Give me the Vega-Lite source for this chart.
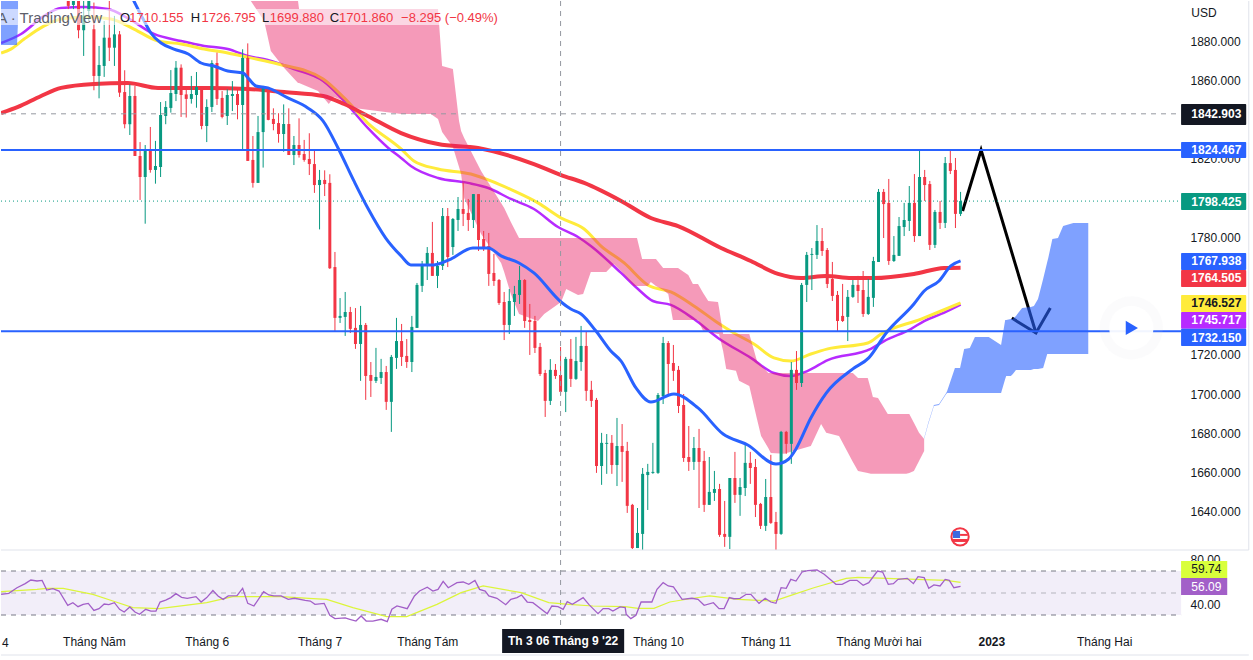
{"$schema":"https://vega.github.io/schema/vega-lite/v6.json","padding":0,"background":"#ffffff","spacing":0,"bounds":"flush","config":{"view":{"stroke":null},"font":"Liberation Sans","axis":{"labelFont":"Liberation Sans"}},
"datasets":{
"candles":[
{"bar":1,"open":1905,"high":1910,"low":1896.2,"close":1897.9},{"bar":2,"open":1898.4,"high":1910,"low":1896.2,"close":1905},{"bar":3,"open":1905,"high":1910,"low":1881.4,"close":1885.5},{"bar":4,"open":1885.5,"high":1905,"low":1872.4,"close":1893},{"bar":5,"open":1895.3,"high":1908,"low":1890.2,"close":1903},
{"bar":6,"open":1886,"high":1899.6,"low":1854.9,"close":1862.2},{"bar":7,"open":1862.2,"high":1877.5,"low":1850.8,"close":1867.8},{"bar":8,"open":1867.3,"high":1890.2,"low":1861.7,"close":1881.7},{"bar":9,"open":1881.7,"high":1900.4,"low":1869.8,"close":1876.6},{"bar":10,"open":1876.6,"high":1892.8,"low":1867.3,"close":1883.4},
{"bar":11,"open":1883.4,"high":1885.1,"low":1851.5,"close":1853.7},{"bar":12,"open":1854,"high":1865.1,"low":1835.5,"close":1837.6},{"bar":13,"open":1837.6,"high":1857.9,"low":1832.1,"close":1852},{"bar":14,"open":1852,"high":1857.1,"low":1821.4,"close":1821.4},{"bar":15,"open":1821.4,"high":1828.5,"low":1799,"close":1810.7},
{"bar":16,"open":1810.7,"high":1827,"low":1786.9,"close":1824.5},{"bar":17,"open":1824.5,"high":1836.2,"low":1812.9,"close":1814.3},{"bar":18,"open":1814.3,"high":1829.1,"low":1807.3,"close":1816.3},{"bar":19,"open":1815.8,"high":1848.9,"low":1810.7,"close":1842.3},{"bar":20,"open":1841.8,"high":1849.4,"low":1837.6,"close":1846.4},
{"bar":21,"open":1845.9,"high":1865.2,"low":1843.5,"close":1853.5},{"bar":22,"open":1853,"high":1869.8,"low":1849.4,"close":1866.4},{"bar":23,"open":1866.4,"high":1868.1,"low":1841.3,"close":1852.5},{"bar":24,"open":1852.8,"high":1855.4,"low":1841,"close":1850.5},{"bar":25,"open":1850.5,"high":1862.2,"low":1848.1,"close":1853},
{"bar":26,"open":1852.5,"high":1864.2,"low":1846,"close":1856.6},{"bar":27,"open":1856.6,"high":1856.6,"low":1835,"close":1836.7},{"bar":28,"open":1836.7,"high":1850.3,"low":1828.5,"close":1846.4},{"bar":29,"open":1846.4,"high":1870.2,"low":1843.8,"close":1868.8},{"bar":30,"open":1868.8,"high":1874.1,"low":1847.4,"close":1850.5},
{"bar":31,"open":1851,"high":1854.5,"low":1840.6,"close":1841.3},{"bar":32,"open":1841.8,"high":1855.4,"low":1837.2,"close":1852.5},{"bar":33,"open":1852,"high":1859.6,"low":1844.3,"close":1853},{"bar":34,"open":1853,"high":1855.4,"low":1840.1,"close":1847.4},{"bar":35,"open":1847.4,"high":1875.8,"low":1824.8,"close":1871.4},
{"bar":36,"open":1871.4,"high":1878.8,"low":1818.9,"close":1818.9},{"bar":37,"open":1819.4,"high":1831.6,"low":1805.3,"close":1807.7},{"bar":38,"open":1807.7,"high":1841.8,"low":1807.7,"close":1833.6},{"bar":39,"open":1833.6,"high":1857.1,"low":1815.5,"close":1857.1},{"bar":40,"open":1856.6,"high":1856.6,"low":1839.6,"close":1839.8},
{"bar":41,"open":1840.3,"high":1845.7,"low":1834.5,"close":1837.7},{"bar":42,"open":1838.2,"high":1843.2,"low":1828.2,"close":1832.6},{"bar":43,"open":1832.6,"high":1847.7,"low":1823.6,"close":1837.7},{"bar":44,"open":1837.7,"high":1845.7,"low":1821.9,"close":1821.9},{"bar":45,"open":1821.9,"high":1831.6,"low":1816.8,"close":1827},
{"bar":46,"open":1827,"high":1840.6,"low":1820.6,"close":1821.9},{"bar":47,"open":1822.4,"high":1829.6,"low":1818.5,"close":1819.4},{"bar":48,"open":1819.9,"high":1833,"low":1811.7,"close":1817.3},{"bar":49,"open":1817.3,"high":1824.8,"low":1802.6,"close":1806.6},{"bar":50,"open":1806.6,"high":1814.3,"low":1784,"close":1809.2},
{"bar":51,"open":1809.2,"high":1814.1,"low":1801,"close":1807.1},{"bar":52,"open":1807.7,"high":1812.1,"low":1763.8,"close":1764.2},{"bar":53,"open":1764.8,"high":1772.5,"low":1731.7,"close":1738.9},{"bar":54,"open":1738.9,"high":1749,"low":1736.3,"close":1739.9},{"bar":55,"open":1739.4,"high":1752.1,"low":1729.7,"close":1741.9},
{"bar":56,"open":1741.9,"high":1744.5,"low":1731.2,"close":1733.3},{"bar":57,"open":1733.8,"high":1743.9,"low":1723.1,"close":1725.6},{"bar":58,"open":1725.6,"high":1745,"low":1706.8,"close":1735.3},{"bar":59,"open":1735.3,"high":1736.3,"low":1697.1,"close":1709.3},{"bar":60,"open":1709.8,"high":1716.4,"low":1698.6,"close":1706.8},
{"bar":61,"open":1706.8,"high":1723.6,"low":1705.7,"close":1708.8},{"bar":62,"open":1708.3,"high":1718,"low":1705.2,"close":1711.3},{"bar":63,"open":1711.3,"high":1714.4,"low":1692,"close":1696.1},{"bar":64,"open":1696.1,"high":1720,"low":1680.8,"close":1719},{"bar":65,"open":1718.5,"high":1738.9,"low":1712.9,"close":1727.1},
{"bar":66,"open":1727.1,"high":1735.8,"low":1714.4,"close":1719},{"bar":67,"open":1719.5,"high":1728.1,"low":1713.4,"close":1716.4},{"bar":68,"open":1716.4,"high":1739.9,"low":1711.3,"close":1734.3},{"bar":69,"open":1733.8,"high":1756.7,"low":1733.8,"close":1755.7},{"bar":70,"open":1755.2,"high":1767.9,"low":1752.1,"close":1765.4},
{"bar":71,"open":1765.4,"high":1775,"low":1758.2,"close":1772},{"bar":72,"open":1772,"high":1787.8,"low":1760.3,"close":1760.3},{"bar":73,"open":1760.3,"high":1767.9,"low":1754.1,"close":1765.4},{"bar":74,"open":1765.4,"high":1794.9,"low":1763.3,"close":1790.8},{"bar":75,"open":1790.8,"high":1794.9,"low":1764.8,"close":1769.9},
{"bar":76,"open":1775,"high":1789.8,"low":1771,"close":1789.3},{"bar":77,"open":1788.8,"high":1800.5,"low":1783.2,"close":1794.4},{"bar":78,"open":1794.4,"high":1807.7,"low":1785.7,"close":1791.9},{"bar":79,"open":1792.4,"high":1799.5,"low":1783.2,"close":1788.8},{"bar":80,"open":1788.8,"high":1802,"low":1784.7,"close":1802},
{"bar":81,"open":1802,"high":1802,"low":1773,"close":1778.6},{"bar":82,"open":1779.1,"high":1783.2,"low":1773,"close":1774.5},{"bar":83,"open":1775.5,"high":1782.2,"low":1755.2,"close":1761.3},{"bar":84,"open":1761.8,"high":1771.5,"low":1755.2,"close":1757.7},{"bar":85,"open":1758.2,"high":1758.7,"low":1745.5,"close":1746.5},
{"bar":86,"open":1747,"high":1752.1,"low":1727.6,"close":1735.3},{"bar":87,"open":1735.3,"high":1753.6,"low":1730.7,"close":1747.5},{"bar":88,"open":1747,"high":1755.2,"low":1739.9,"close":1751.1},{"bar":89,"open":1750.6,"high":1765.4,"low":1746,"close":1758.2},{"bar":90,"open":1758.2,"high":1758.7,"low":1733.8,"close":1737.3},
{"bar":91,"open":1737.8,"high":1746,"low":1720,"close":1736.8},{"bar":92,"open":1737.3,"high":1739.9,"low":1721,"close":1723.6},{"bar":93,"open":1724.1,"high":1726.1,"low":1709.3,"close":1710.3},{"bar":94,"open":1710.8,"high":1712.4,"low":1688.4,"close":1696.6},{"bar":95,"open":1696.6,"high":1717.9,"low":1694.5,"close":1712.4},
{"bar":96,"open":1712.4,"high":1715.4,"low":1707.8,"close":1709.3},{"bar":97,"open":1709.8,"high":1724.1,"low":1699.6,"close":1701.2},{"bar":98,"open":1701.2,"high":1719,"low":1690.9,"close":1718},{"bar":99,"open":1718,"high":1728.1,"low":1703.7,"close":1707.8},{"bar":100,"open":1707.8,"high":1729.2,"low":1707.3,"close":1716.9},
{"bar":101,"open":1716.4,"high":1734.8,"low":1711.9,"close":1724.6},{"bar":102,"open":1724.6,"high":1731.7,"low":1696.6,"close":1701.7},{"bar":103,"open":1702.2,"high":1706.8,"low":1693.5,"close":1696.6},{"bar":104,"open":1697.1,"high":1698.1,"low":1659.9,"close":1663.4},{"bar":105,"open":1663.4,"high":1680.3,"low":1653.8,"close":1675.2},
{"bar":106,"open":1674.7,"high":1679.7,"low":1659.4,"close":1675.2},{"bar":107,"open":1675.2,"high":1679.2,"low":1659.4,"close":1663.9},{"bar":108,"open":1663.9,"high":1687.9,"low":1653.2,"close":1673.6},{"bar":109,"open":1673.6,"high":1684.8,"low":1655.3,"close":1670.6},{"bar":110,"open":1671.1,"high":1675.7,"low":1639.5,"close":1643.1},
{"bar":111,"open":1643.6,"high":1644.1,"low":1621.1,"close":1621.6},{"bar":112,"open":1621.6,"high":1642,"low":1621.6,"close":1629.3},{"bar":113,"open":1628.8,"high":1662.4,"low":1620.6,"close":1659.4},{"bar":114,"open":1658.8,"high":1664.5,"low":1641,"close":1660.4},{"bar":115,"open":1659.9,"high":1675.2,"low":1659.4,"close":1660.4},
{"bar":116,"open":1659.9,"high":1700.6,"low":1659.4,"close":1699.6},{"bar":117,"open":1699.1,"high":1729.2,"low":1695,"close":1726.1},{"bar":118,"open":1726.1,"high":1727.1,"low":1700.1,"close":1715.4},{"bar":119,"open":1715.9,"high":1725.1,"low":1706.8,"close":1711.9},{"bar":120,"open":1712.4,"high":1714.4,"low":1690.4,"close":1694},
{"bar":121,"open":1694.5,"high":1700.1,"low":1665.5,"close":1667.5},{"bar":122,"open":1668,"high":1683.8,"low":1660.9,"close":1665.5},{"bar":123,"open":1665.5,"high":1678.2,"low":1661.4,"close":1672.6},{"bar":124,"open":1672.6,"high":1682.3,"low":1642,"close":1665.5},{"bar":125,"open":1666,"high":1671.1,"low":1640,"close":1643.6},
{"bar":126,"open":1643.6,"high":1668,"low":1643.6,"close":1650.2},{"bar":127,"open":1649.7,"high":1660.9,"low":1645.6,"close":1651.7},{"bar":128,"open":1651.7,"high":1654.3,"low":1627.3,"close":1628.3},{"bar":129,"open":1628.8,"high":1645.6,"low":1622.2,"close":1627.3},{"bar":130,"open":1627.3,"high":1657.3,"low":1621.1,"close":1657.3},
{"bar":131,"open":1657.3,"high":1670.6,"low":1644.6,"close":1648.7},{"bar":132,"open":1648.7,"high":1657.3,"low":1638,"close":1652.7},{"bar":133,"open":1652.2,"high":1674.7,"low":1648.1,"close":1665},{"bar":134,"open":1665,"high":1670.6,"low":1654.3,"close":1662.4},{"bar":135,"open":1662.9,"high":1667,"low":1637.4,"close":1643.6},
{"bar":136,"open":1644.1,"high":1644.6,"low":1631.3,"close":1632.9},{"bar":137,"open":1632.9,"high":1656.8,"low":1630.3,"close":1647.6},{"bar":138,"open":1647.6,"high":1669.1,"low":1633.9,"close":1634.4},{"bar":139,"open":1634.9,"high":1640,"low":1620.6,"close":1628.8},{"bar":140,"open":1628.8,"high":1681.3,"low":1628.3,"close":1680.8},
{"bar":141,"open":1680.8,"high":1681.3,"low":1669.6,"close":1674.7},{"bar":142,"open":1674.7,"high":1716.4,"low":1664.5,"close":1712.4},{"bar":143,"open":1712.4,"high":1722,"low":1702.2,"close":1705.7},{"bar":144,"open":1705.7,"high":1756.7,"low":1703.7,"close":1755.7},{"bar":145,"open":1755.7,"high":1772.5,"low":1747,"close":1771},
{"bar":146,"open":1771,"high":1774.5,"low":1753.1,"close":1771.5},{"bar":147,"open":1771,"high":1786.2,"low":1768.9,"close":1778.1},{"bar":148,"open":1778.1,"high":1784.7,"low":1770.5,"close":1773},{"bar":149,"open":1773.5,"high":1774.5,"low":1754.1,"close":1756.2},{"bar":150,"open":1758.7,"high":1767.4,"low":1747.5,"close":1750.1},
{"bar":151,"open":1750.6,"high":1752.6,"low":1732.2,"close":1737.3},{"bar":152,"open":1739.9,"high":1756.2,"low":1736.8,"close":1737.3},{"bar":153,"open":1739.4,"high":1753.1,"low":1727.1,"close":1749.6},{"bar":154,"open":1749.6,"high":1758.2,"low":1749.1,"close":1755.7},{"bar":155,"open":1755.7,"high":1760.3,"low":1746.5,"close":1752.6},
{"bar":156,"open":1753.1,"high":1762.8,"low":1739.4,"close":1740.9},{"bar":157,"open":1740.9,"high":1758.7,"low":1740.4,"close":1749.6},{"bar":158,"open":1749.1,"high":1770,"low":1744.5,"close":1767.9},{"bar":159,"open":1767.4,"high":1804.6,"low":1767.4,"close":1803.1},{"bar":160,"open":1803.1,"high":1804.6,"low":1779.6,"close":1796.9},
{"bar":161,"open":1797.5,"high":1809.7,"low":1765.9,"close":1767.9},{"bar":162,"open":1767.9,"high":1780.6,"low":1767.4,"close":1771},{"bar":163,"open":1770.5,"high":1790.3,"low":1770.5,"close":1785.7},{"bar":164,"open":1785.2,"high":1797.5,"low":1780.6,"close":1788.8},{"bar":165,"open":1788.3,"high":1806.1,"low":1783.2,"close":1797.5},
{"bar":166,"open":1797.5,"high":1812.2,"low":1777.6,"close":1780.6},{"bar":167,"open":1780.6,"high":1824.5,"low":1780.6,"close":1810.7},{"bar":168,"open":1810.7,"high":1814.3,"low":1798.5,"close":1806.6},{"bar":169,"open":1807.1,"high":1808.7,"low":1773.5,"close":1776.1},{"bar":170,"open":1776.1,"high":1793.9,"low":1774.5,"close":1792.9},
{"bar":171,"open":1792.9,"high":1798.5,"low":1784.2,"close":1787.3},{"bar":172,"open":1787.3,"high":1820.9,"low":1784.7,"close":1817.8},{"bar":173,"open":1817.8,"high":1824,"low":1812.2,"close":1813.8},{"bar":174,"open":1814.3,"high":1820.4,"low":1784.7,"close":1791.9},{"bar":175,"open":1791.9,"high":1803.1,"low":1790.8,"close":1798.425}],
"maBlue":[{"bar":11.3,"price":1913.6},{"bar":13.8,"price":1900.4},{"bar":15.8,"price":1890.2},{"bar":17.1,"price":1884.1},{"bar":19.1,"price":1879},{"bar":21.6,"price":1875.9},{"bar":24.4,"price":1873.4},{"bar":26.9,"price":1868.8},{"bar":29.4,"price":1867.3},{"bar":32.1,"price":1864.7},{"bar":35.1,"price":1863.7},{"bar":36.2,"price":1860.7},{"bar":37.6,"price":1857.1},{"bar":39.9,"price":1856.1},{"bar":43.8,"price":1851},{"bar":47.7,"price":1845.9},{"bar":50.7,"price":1839.2},{"bar":53.6,"price":1825.5},{"bar":56.7,"price":1808.7},{"bar":59.4,"price":1794.9},{"bar":62.9,"price":1779.6},{"bar":65.9,"price":1770.5},{"bar":67.8,"price":1765.9},{"bar":72.3,"price":1765.9},{"bar":75.6,"price":1768.9},{"bar":79.9,"price":1774.5},{"bar":82.9,"price":1774.5},{"bar":85.4,"price":1770.5},{"bar":88.9,"price":1766.9},{"bar":91.8,"price":1761.8},{"bar":97.1,"price":1747},{"bar":99,"price":1743.4},{"bar":101,"price":1740.9},{"bar":103.9,"price":1732.2},{"bar":106.8,"price":1722},{"bar":108.8,"price":1716.9},{"bar":111.7,"price":1703.2},{"bar":114.6,"price":1696},{"bar":119.1,"price":1700.1},{"bar":123.8,"price":1693},{"bar":128.7,"price":1679.7},{"bar":133.5,"price":1674.1},{"bar":139,"price":1664.4},{"bar":141.5,"price":1667},{"bar":142.9,"price":1672.1},{"bar":145.8,"price":1687.9},{"bar":148.8,"price":1700.6},{"bar":154,"price":1712.9},{"bar":157.1,"price":1718.5},{"bar":160.5,"price":1731.2},{"bar":165.9,"price":1746},{"bar":167.9,"price":1752.6},{"bar":170.8,"price":1757.7},{"bar":173.1,"price":1765.4},{"bar":175,"price":1767.938}],
"maPurple":[{"bar":-12.1,"price":1879},{"bar":-8.2,"price":1883.6},{"bar":-3.7,"price":1892.8},{"bar":-0.4,"price":1896.8},{"bar":4.1,"price":1897.3},{"bar":8.7,"price":1896.3},{"bar":12.6,"price":1891.7},{"bar":17.7,"price":1883.6},{"bar":23,"price":1880},{"bar":27.5,"price":1877.5},{"bar":32.1,"price":1875.9},{"bar":36,"price":1872.4},{"bar":39.9,"price":1870.3},{"bar":45,"price":1865.7},{"bar":50.7,"price":1859.6},{"bar":54.8,"price":1849.4},{"bar":59.4,"price":1835.7},{"bar":63.4,"price":1825.5},{"bar":65.9,"price":1820.4},{"bar":67.8,"price":1816.3},{"bar":73.1,"price":1810.2},{"bar":78.9,"price":1807.7},{"bar":82.9,"price":1805.1},{"bar":87.3,"price":1799.5},{"bar":91.8,"price":1794.4},{"bar":96.5,"price":1785.2},{"bar":100.4,"price":1780.1},{"bar":102.9,"price":1775.5},{"bar":108.8,"price":1761.8},{"bar":112.1,"price":1753.6},{"bar":115,"price":1747.5},{"bar":118.5,"price":1745.5},{"bar":123,"price":1738.3},{"bar":127.7,"price":1728.7},{"bar":134.1,"price":1718.5},{"bar":138.6,"price":1710.8},{"bar":141.9,"price":1709.3},{"bar":145.2,"price":1711.9},{"bar":149.1,"price":1717.4},{"bar":157.5,"price":1723.1},{"bar":160.1,"price":1727.1},{"bar":165.3,"price":1733.2},{"bar":167.9,"price":1737.3},{"bar":171.2,"price":1740.9},{"bar":175,"price":1745.717}],
"maYellow":[{"bar":-12.1,"price":1873.9},{"bar":-10.2,"price":1875.9},{"bar":-7.6,"price":1881},{"bar":-3.7,"price":1887.7},{"bar":-0.4,"price":1891.2},{"bar":4.8,"price":1892.2},{"bar":9.3,"price":1891.2},{"bar":13.8,"price":1886.1},{"bar":18.5,"price":1880},{"bar":23,"price":1878.5},{"bar":27.5,"price":1875.9},{"bar":32.1,"price":1873.9},{"bar":36.6,"price":1871.4},{"bar":41.9,"price":1868.3},{"bar":50.7,"price":1860.7},{"bar":54.8,"price":1851},{"bar":59.4,"price":1838.2},{"bar":65.9,"price":1825},{"bar":68.4,"price":1818.9},{"bar":73.1,"price":1814.8},{"bar":79.5,"price":1812.2},{"bar":83.4,"price":1808.7},{"bar":87.9,"price":1803.6},{"bar":92.6,"price":1797.5},{"bar":97.1,"price":1789.8},{"bar":101.6,"price":1784.2},{"bar":104.9,"price":1775.5},{"bar":109.4,"price":1766.9},{"bar":114,"price":1755.7},{"bar":118.5,"price":1752.1},{"bar":123,"price":1745},{"bar":127.7,"price":1736.3},{"bar":130.8,"price":1731.2},{"bar":134.7,"price":1725.6},{"bar":138.6,"price":1718.5},{"bar":141.9,"price":1716.9},{"bar":145.8,"price":1720.5},{"bar":149.1,"price":1723.1},{"bar":156.9,"price":1726.1},{"bar":159.5,"price":1730.7},{"bar":167.3,"price":1738.3},{"bar":171.2,"price":1742.4},{"bar":175,"price":1746.527}],
"maRed":[{"bar":-12.1,"price":1843.3},{"bar":-8.8,"price":1846.4},{"bar":-4.3,"price":1852},{"bar":-0.4,"price":1856.1},{"bar":6,"price":1858.1},{"bar":12.6,"price":1858.6},{"bar":18.5,"price":1856.1},{"bar":28.2,"price":1856.1},{"bar":36,"price":1855.6},{"bar":43.1,"price":1854},{"bar":50.7,"price":1852},{"bar":54.8,"price":1847.9},{"bar":59.4,"price":1841.8},{"bar":65.9,"price":1833.1},{"bar":73.1,"price":1827.5},{"bar":80.9,"price":1825.5},{"bar":91.8,"price":1817.3},{"bar":97.1,"price":1811.7},{"bar":101.6,"price":1807.7},{"bar":108.8,"price":1798.5},{"bar":114.6,"price":1789.8},{"bar":119.9,"price":1785.7},{"bar":128.3,"price":1774.5},{"bar":134.1,"price":1767.9},{"bar":139.4,"price":1761.3},{"bar":143.9,"price":1759.2},{"bar":148.8,"price":1760.3},{"bar":153.7,"price":1759.2},{"bar":158.1,"price":1759.2},{"bar":165.9,"price":1761.3},{"bar":171.8,"price":1764.3},{"bar":175,"price":1764.505}],
"pinkCloud":[{"bar":36.6,"top":1900.4,"bottom":1900.4},{"bar":39.2,"top":1900.4,"bottom":1890.2},{"bar":40.5,"top":1900.4,"bottom":1874.9},{"bar":43.1,"top":1900.4,"bottom":1866.3},{"bar":45.8,"top":1900.4,"bottom":1858.6},{"bar":46,"top":1896.3,"bottom":1858.6},{"bar":49.7,"top":1896.3,"bottom":1854.5},{"bar":51.8,"top":1896.3,"bottom":1847.9},{"bar":52.8,"top":1896.3,"bottom":1851.5},{"bar":54.8,"top":1896.3,"bottom":1849.4},{"bar":56.7,"top":1896.3,"bottom":1845.9},{"bar":65.9,"top":1896.3,"bottom":1842.8},{"bar":71.7,"top":1896.3,"bottom":1842.8},{"bar":73.1,"top":1896.3,"bottom":1840.3},{"bar":73.9,"top":1867.3,"bottom":1833.6},{"bar":76,"top":1865.7,"bottom":1826},{"bar":77.2,"top":1839.2,"bottom":1815.8},{"bar":77.6,"top":1834.2,"bottom":1812.2},{"bar":78.2,"top":1830.6,"bottom":1800},{"bar":81.5,"top":1813.8,"bottom":1781.7},{"bar":85.4,"top":1797.5,"bottom":1766.9},{"bar":86,"top":1794.9,"bottom":1762.3},{"bar":87.3,"top":1787.8,"bottom":1751.1},{"bar":88.9,"top":1779.6,"bottom":1740.9},{"bar":92.6,"top":1779.6,"bottom":1737.3},{"bar":93.8,"top":1779.6,"bottom":1740.9},{"bar":97.1,"top":1779.6,"bottom":1747},{"bar":98.1,"top":1779.6,"bottom":1753.6},{"bar":100.4,"top":1779.6,"bottom":1750.6},{"bar":101.4,"top":1779.6,"bottom":1751.1},{"bar":102.9,"top":1779.6,"bottom":1762.3},{"bar":105.9,"top":1779.6,"bottom":1762.3},{"bar":107.4,"top":1779.6,"bottom":1766.4},{"bar":108.8,"top":1779.6,"bottom":1762.8},{"bar":111.3,"top":1779.6,"bottom":1755.2},{"bar":111.9,"top":1779.6,"bottom":1755.2},{"bar":112.9,"top":1768.9,"bottom":1755.2},{"bar":114,"top":1768.9,"bottom":1755.2},{"bar":114.6,"top":1768.9,"bottom":1757.2},{"bar":115.6,"top":1768.9,"bottom":1755.2},{"bar":117,"top":1764.3,"bottom":1753.1},{"bar":118,"top":1764.3,"bottom":1751.1},{"bar":118.9,"top":1764.3,"bottom":1737.8},{"bar":119.9,"top":1764.3,"bottom":1737.8},{"bar":121.9,"top":1760.8,"bottom":1737.8},{"bar":122.8,"top":1756.2,"bottom":1737.8},{"bar":123.8,"top":1756.2,"bottom":1737.8},{"bar":124.8,"top":1751.6,"bottom":1732.2},{"bar":125.8,"top":1747.5,"bottom":1731.7},{"bar":127.7,"top":1747,"bottom":1730.7},{"bar":127.9,"top":1744,"bottom":1730.7},{"bar":128.7,"top":1730.7,"bottom":1722},{"bar":129.3,"top":1730.7,"bottom":1712.9},{"bar":131.2,"top":1730.7,"bottom":1711.9},{"bar":131.8,"top":1730.7,"bottom":1706.8},{"bar":133.8,"top":1730.7,"bottom":1704.2},{"bar":135.3,"top":1716.9,"bottom":1687.4},{"bar":136.1,"top":1714.9,"bottom":1678.7},{"bar":137.5,"top":1710.8,"bottom":1672.6},{"bar":138,"top":1710.8,"bottom":1670.1},{"bar":140.6,"top":1710.8,"bottom":1669.6},{"bar":145.8,"top":1710.8,"bottom":1673.6},{"bar":147.8,"top":1710.8,"bottom":1684.8},{"bar":148.8,"top":1710.8,"bottom":1680.3},{"bar":151.3,"top":1710.8,"bottom":1678.7},{"bar":154,"top":1710.8,"bottom":1665.5},{"bar":155,"top":1708.3,"bottom":1660.9},{"bar":156.9,"top":1708.3,"bottom":1659.9},{"bar":157.5,"top":1702.7,"bottom":1659.4},{"bar":157.9,"top":1698.6,"bottom":1659.4},{"bar":158.9,"top":1698.1,"bottom":1659.4},{"bar":160.8,"top":1689.9,"bottom":1659.4},{"bar":164.4,"top":1689.9,"bottom":1659.4},{"bar":165,"top":1689.9,"bottom":1659.9},{"bar":165.9,"top":1685.4,"bottom":1660.9},{"bar":166.9,"top":1680.3,"bottom":1666},{"bar":167.9,"top":1677.2,"bottom":1671.1}],
"blueCloud":[{"bar":167.9,"top":1677.7,"bottom":1677.2},{"bar":168.7,"top":1685.4,"bottom":1684.8},{"bar":169.8,"top":1694.5,"bottom":1694},{"bar":170.8,"top":1695,"bottom":1694.5},{"bar":172.2,"top":1700.6,"bottom":1700.1},{"bar":172.4,"top":1701.7,"bottom":1700.6},{"bar":173.9,"top":1713.4,"bottom":1700.6},{"bar":174.9,"top":1713.4,"bottom":1700.6},{"bar":175.7,"top":1723.1,"bottom":1700.6},{"bar":176.8,"top":1723.6,"bottom":1700.6},{"bar":177.8,"top":1729.2,"bottom":1700.6},{"bar":180.5,"top":1729.2,"bottom":1700.6},{"bar":182.9,"top":1725.1,"bottom":1700.6},{"bar":183.7,"top":1737.8,"bottom":1707.8},{"bar":183.9,"top":1737.8,"bottom":1709.3},{"bar":184.8,"top":1738.3,"bottom":1709.3},{"bar":185.2,"top":1738.3,"bottom":1710.3},{"bar":185.8,"top":1739.9,"bottom":1712.4},{"bar":187,"top":1744,"bottom":1712.4},{"bar":188.7,"top":1744.5,"bottom":1712.4},{"bar":189.3,"top":1745,"bottom":1712.9},{"bar":190.1,"top":1748.5,"bottom":1712.9},{"bar":191.1,"top":1758.7,"bottom":1713.4},{"bar":191.9,"top":1767.4,"bottom":1720.5},{"bar":192.1,"top":1769.4,"bottom":1720.5},{"bar":192.9,"top":1779.1,"bottom":1720.5},{"bar":194,"top":1779.6,"bottom":1720.5},{"bar":195,"top":1785.7,"bottom":1720.5},{"bar":197,"top":1787.3,"bottom":1720.5},{"bar":199.9,"top":1787.3,"bottom":1720.5}],
"blueCloudOld":[{"bar":-12.12,"top":1905,"bottom":1878},{"bar":-9,"top":1905,"bottom":1878},{"bar":-8.8,"top":1905,"bottom":1890}],
"arrow":[{"seg":"a","n":1,"bar":175.4,"price":1793.4},{"seg":"a","n":2,"bar":179,"price":1824.467},{"seg":"a","n":3,"bar":189.7,"price":1731.2},{"seg":"b","n":1,"bar":185,"price":1738.8},{"seg":"b","n":2,"bar":189.7,"price":1731.2},{"seg":"b","n":3,"bar":192.5,"price":1743.9}],
"levels":[{"price":1824.467},{"price":1732.15}],
"tags":[{"name":"cross","label":"1842.903","price":1842.9,"y1":1847.9,"y2":1837.2},{"name":"blue","label":"1824.467","price":1824.5,"y1":1828.6,"y2":1820.4},{"name":"green","label":"1798.425","price":1798.2,"y1":1802.6,"y2":1793.9},{"name":"red","label":"1764.505","price":1759,"y1":1763.3,"y2":1754.7},{"name":"blue","label":"1767.938","price":1767.7,"y1":1772,"y2":1763.3},{"name":"yellow","label":"1746.527","price":1746.3,"y1":1750.6,"y2":1741.9},{"name":"purple","label":"1745.717","price":1737.6,"y1":1741.9,"y2":1733.3},{"name":"blue","label":"1732.150","price":1728.9,"y1":1733.3,"y2":1724.6}],
"flagParts":[{"part":"blue","x1":173.5,"x2":174.9,"y1":1630.3,"y2":1626.7},{"part":"red","x1":174.9,"x2":176.4,"y1":1628.8,"y2":1627.8},{"part":"red","x1":173.3,"x2":176.4,"y1":1626.2,"y2":1624.7}],
"rsi":[{"bar":-12.1,"rsi":48.8},{"bar":-10.6,"rsi":49.7},{"bar":-9,"rsi":54.8},{"bar":-7.4,"rsi":58.5},{"bar":-6.3,"rsi":61.8},{"bar":-5.1,"rsi":60.9},{"bar":-4.1,"rsi":61.5},{"bar":-3.2,"rsi":52.7},{"bar":-2,"rsi":53.9},{"bar":-0.8,"rsi":51.8},{"bar":0.9,"rsi":38.8},{"bar":1.9,"rsi":41.2},{"bar":2.9,"rsi":37.6},{"bar":3.9,"rsi":39.7},{"bar":4.9,"rsi":40.6},{"bar":6,"rsi":34.2},{"bar":7,"rsi":35.8},{"bar":8,"rsi":40},{"bar":8.9,"rsi":39.4},{"bar":10,"rsi":41.2},{"bar":11,"rsi":35.2},{"bar":11.9,"rsi":32.7},{"bar":13,"rsi":37.3},{"bar":14,"rsi":32.7},{"bar":14.9,"rsi":30.6},{"bar":16.1,"rsi":35.2},{"bar":17.1,"rsi":33.6},{"bar":18.1,"rsi":33.6},{"bar":18.9,"rsi":41.8},{"bar":20,"rsi":43.6},{"bar":21,"rsi":45.8},{"bar":22,"rsi":49.4},{"bar":23.1,"rsi":46.1},{"bar":24.2,"rsi":45.2},{"bar":25.9,"rsi":46.7},{"bar":26.9,"rsi":41.8},{"bar":28,"rsi":45.8},{"bar":29.2,"rsi":52.2},{"bar":30.2,"rsi":47.3},{"bar":31.2,"rsi":44.2},{"bar":32.2,"rsi":47.3},{"bar":33.9,"rsi":47.6},{"bar":35,"rsi":54.2},{"bar":36,"rsi":40.6},{"bar":37.2,"rsi":38.2},{"bar":39.1,"rsi":51.2},{"bar":40.1,"rsi":48.2},{"bar":41.1,"rsi":47.3},{"bar":42.5,"rsi":47.3},{"bar":43.9,"rsi":44.2},{"bar":45.1,"rsi":45.2},{"bar":47.2,"rsi":43.3},{"bar":48.2,"rsi":42.7},{"bar":49.1,"rsi":39.7},{"bar":50.9,"rsi":40.6},{"bar":52,"rsi":29.7},{"bar":53,"rsi":26.7},{"bar":55,"rsi":27.3},{"bar":55.9,"rsi":26.1},{"bar":57.1,"rsi":24.5},{"bar":58.1,"rsi":29.1},{"bar":59.1,"rsi":24.5},{"bar":60.4,"rsi":24.5},{"bar":62,"rsi":26.1},{"bar":63.2,"rsi":23.9},{"bar":64.1,"rsi":35.2},{"bar":65.1,"rsi":38.2},{"bar":67.1,"rsi":35.8},{"bar":68.5,"rsi":47.3},{"bar":69.5,"rsi":51.8},{"bar":71,"rsi":55.2},{"bar":72.1,"rsi":51.8},{"bar":73.1,"rsi":53.3},{"bar":74.1,"rsi":60.6},{"bar":75.1,"rsi":54.8},{"bar":76.8,"rsi":59.4},{"bar":78,"rsi":60},{"bar":79.1,"rsi":57.9},{"bar":80.3,"rsi":61.5},{"bar":81.2,"rsi":53.3},{"bar":82.3,"rsi":51.8},{"bar":83,"rsi":47.3},{"bar":84.6,"rsi":45.2},{"bar":86.3,"rsi":39.4},{"bar":87.3,"rsi":44.2},{"bar":88.5,"rsi":45.8},{"bar":89.4,"rsi":48.2},{"bar":90.5,"rsi":41.8},{"bar":91.6,"rsi":41.2},{"bar":94.4,"rsi":31.2},{"bar":95.3,"rsi":38.2},{"bar":96.5,"rsi":37.6},{"bar":97.5,"rsi":35.2},{"bar":98.3,"rsi":42.1},{"bar":99.3,"rsi":39.7},{"bar":101.4,"rsi":45.8},{"bar":102.5,"rsi":39.7},{"bar":104.3,"rsi":31.2},{"bar":105.3,"rsi":35.8},{"bar":106.4,"rsi":35.8},{"bar":107.2,"rsi":33.6},{"bar":108.6,"rsi":37.3},{"bar":109.6,"rsi":36.7},{"bar":109.8,"rsi":30.6},{"bar":110.7,"rsi":26.7},{"bar":111.7,"rsi":29.7},{"bar":112.7,"rsi":41.8},{"bar":114.8,"rsi":41.8},{"bar":115.8,"rsi":53.3},{"bar":117,"rsi":59.4},{"bar":118,"rsi":56.4},{"bar":119,"rsi":55.5},{"bar":120.7,"rsi":44.2},{"bar":122.6,"rsi":45.2},{"bar":123.8,"rsi":44.2},{"bar":125,"rsi":38.8},{"bar":126.8,"rsi":41.2},{"bar":127.9,"rsi":35.8},{"bar":128.9,"rsi":35.8},{"bar":129.9,"rsi":45.8},{"bar":130.8,"rsi":44.8},{"bar":132,"rsi":45.2},{"bar":133.2,"rsi":48.8},{"bar":134.1,"rsi":48.8},{"bar":135.7,"rsi":40.6},{"bar":136.9,"rsi":45.2},{"bar":138,"rsi":41.8},{"bar":139,"rsi":40.6},{"bar":140,"rsi":54.8},{"bar":141,"rsi":54.2},{"bar":141.9,"rsi":62.4},{"bar":142.9,"rsi":60.9},{"bar":144.1,"rsi":69.1},{"bar":145.2,"rsi":70.3},{"bar":147,"rsi":70.9},{"bar":148.4,"rsi":67},{"bar":150.7,"rsi":57.9},{"bar":151.9,"rsi":57.9},{"bar":153.4,"rsi":61.5},{"bar":154.8,"rsi":61.5},{"bar":156,"rsi":57},{"bar":157.1,"rsi":59.4},{"bar":158.8,"rsi":70},{"bar":159.8,"rsi":69.1},{"bar":160.9,"rsi":57.9},{"bar":161.9,"rsi":58.5},{"bar":162.8,"rsi":62.4},{"bar":164.6,"rsi":63.3},{"bar":165.8,"rsi":58.5},{"bar":166.7,"rsi":64.8},{"bar":167.9,"rsi":63.9},{"bar":168.8,"rsi":54.2},{"bar":169.8,"rsi":57.3},{"bar":171,"rsi":56.4},{"bar":172,"rsi":62.4},{"bar":172.8,"rsi":61.5},{"bar":173.7,"rsi":54.8},{"bar":175,"rsi":56.09}],
"signal":[{"bar":-12.1,"rsi":51.2},{"bar":-8.2,"rsi":52.4},{"bar":-5.1,"rsi":53.3},{"bar":-3.2,"rsi":54.2},{"bar":0,"rsi":54.2},{"bar":5.8,"rsi":48.8},{"bar":9.7,"rsi":42.7},{"bar":13.6,"rsi":36.7},{"bar":18.7,"rsi":35.8},{"bar":23.8,"rsi":38.8},{"bar":28,"rsi":41.2},{"bar":33.1,"rsi":46.7},{"bar":36.2,"rsi":46.7},{"bar":42.5,"rsi":46.7},{"bar":47.9,"rsi":45.2},{"bar":51.4,"rsi":44.2},{"bar":56.5,"rsi":36.7},{"bar":63.1,"rsi":28.5},{"bar":67,"rsi":28.5},{"bar":72.9,"rsi":39.7},{"bar":77.6,"rsi":50.3},{"bar":81.9,"rsi":56.4},{"bar":89.3,"rsi":50.3},{"bar":94.7,"rsi":41.2},{"bar":98.6,"rsi":39.7},{"bar":103.3,"rsi":38.2},{"bar":109.6,"rsi":37.6},{"bar":112.1,"rsi":36.1},{"bar":115.2,"rsi":36.1},{"bar":118.3,"rsi":41.8},{"bar":122.2,"rsi":44.8},{"bar":126.1,"rsi":47.3},{"bar":131.6,"rsi":44.2},{"bar":138.6,"rsi":42.7},{"bar":142.5,"rsi":48.8},{"bar":146.4,"rsi":54.8},{"bar":152.7,"rsi":63.3},{"bar":155,"rsi":64.2},{"bar":160.5,"rsi":63.3},{"bar":172.2,"rsi":61.5},{"bar":175,"rsi":59.74}],
"rsiBounds":[{"rsi":70,"kind":"band"},{"rsi":30,"kind":"band"}],
"rsiTags":[{"name":"signal","label":"59.74","rsi":71.4,"y1":79.1,"y2":63.6},{"name":"rsi","label":"56.09","rsi":55.9,"y1":63.6,"y2":48.2}]
},
"vconcat":[
{"width":1179,"height":549,
"layer":[
{"data":{"values":[{"a":1}]},"mark":{"type":"rule","color":"#e0e3eb","strokeWidth":1},"encoding":{"x":{"datum":231.2,"type":"quantitative","scale":{"domain":[-12.12,217.79],"nice":false,"zero":false,"padding":0},"axis":null},"y":{"datum":1900.4,"type":"quantitative","scale":{"domain":[1620.6,1900.4],"nice":false,"zero":false},"axis":{"orient":"right","title":null,"values":[1880,1860,1820,1780,1720,1700,1680,1660,1640],"format":".3f","grid":false,"domain":false,"ticks":false,"labelAlign":"left","labelPadding":10,"labelFontSize":12,"labelColor":"#131722"}},"y2":{"datum":1620.6}}},
{"data":{"name":"arrow"},"mark":{"type":"line","color":"#000000","strokeWidth":3,"clip":true},"encoding":{"x":{"field":"bar","type":"quantitative"},"y":{"field":"price","type":"quantitative"},"detail":{"field":"seg"},"order":{"field":"n"}}},
{"data":{"name":"maPurple"},"mark":{"type":"line","color":"#b72bff","strokeWidth":2.5,"interpolate":"monotone","clip":true},"encoding":{"x":{"field":"bar","type":"quantitative"},"y":{"field":"price","type":"quantitative"}}},
{"data":{"name":"maYellow"},"mark":{"type":"line","color":"#ffeb3b","strokeWidth":3,"interpolate":"monotone","clip":true},"encoding":{"x":{"field":"bar","type":"quantitative"},"y":{"field":"price","type":"quantitative"}}},
{"data":{"name":"maRed"},"mark":{"type":"line","color":"#f23645","strokeWidth":4,"interpolate":"monotone","clip":true},"encoding":{"x":{"field":"bar","type":"quantitative"},"y":{"field":"price","type":"quantitative"}}},
{"data":{"name":"pinkCloud"},"mark":{"type":"area","orient":"vertical","color":"#e91e63","opacity":0.45,"clip":true},"encoding":{"x":{"field":"bar","type":"quantitative"},"y":{"field":"top","type":"quantitative"},"y2":{"field":"bottom"}}},
{"data":{"name":"blueCloud"},"mark":{"type":"area","orient":"vertical","color":"#2962ff","opacity":0.6,"clip":true},"encoding":{"x":{"field":"bar","type":"quantitative"},"y":{"field":"top","type":"quantitative"},"y2":{"field":"bottom"}}},
{"data":{"name":"blueCloudOld"},"mark":{"type":"area","orient":"vertical","color":"#2962ff","opacity":0.6,"clip":true},"encoding":{"x":{"field":"bar","type":"quantitative"},"y":{"field":"top","type":"quantitative"},"y2":{"field":"bottom"}}},
{"data":{"name":"candles"},"mark":{"type":"rule","strokeWidth":1,"clip":true},"encoding":{"x":{"field":"bar","type":"quantitative"},"y":{"field":"high","type":"quantitative"},"y2":{"field":"low"},"color":{"condition":{"test":"datum.close >= datum.open","value":"#089981"},"value":"#f23645"}}},
{"data":{"name":"candles"},"mark":{"type":"bar","orient":"vertical","size":3,"clip":true},"encoding":{"x":{"field":"bar","type":"quantitative"},"y":{"field":"open","type":"quantitative"},"y2":{"field":"close"},"color":{"condition":{"test":"datum.close >= datum.open","value":"#089981"},"value":"#f23645"}}},
{"data":{"name":"maBlue"},"mark":{"type":"line","color":"#2962ff","strokeWidth":3,"interpolate":"monotone","clip":true},"encoding":{"x":{"field":"bar","type":"quantitative"},"y":{"field":"price","type":"quantitative"}}},
{"data":{"name":"levels"},"mark":{"type":"rule","color":"#2962ff","strokeWidth":2},"encoding":{"x":{"datum":-12.12,"type":"quantitative"},"x2":{"datum":218},"y":{"field":"price","type":"quantitative"}}},
{"data":{"values":[{"price":1842.903}]},"mark":{"type":"rule","color":"#9598a1","strokeWidth":1,"strokeDash":[5,5]},"encoding":{"x":{"datum":-12.12,"type":"quantitative"},"x2":{"datum":218},"y":{"field":"price","type":"quantitative"}}},
{"data":{"values":[{"price":1798.425}]},"mark":{"type":"rule","color":"#089981","strokeWidth":1,"strokeDash":[1,3]},"encoding":{"x":{"datum":-12.12,"type":"quantitative"},"x2":{"datum":218},"y":{"field":"price","type":"quantitative"}}},
{"data":{"values":[{"bar":97,"from":1900.4,"to":1620.6}]},"mark":{"type":"rule","color":"#9598a1","strokeWidth":1,"strokeDash":[5,5]},"encoding":{"x":{"field":"bar","type":"quantitative"},"y":{"field":"from","type":"quantitative"},"y2":{"field":"to"}}},
{"data":{"values":[{"a":1}]},"mark":{"type":"rect","color":"#ffffff","opacity":0.6},"encoding":{"x":{"datum":-12.12,"type":"quantitative"},"x2":{"datum":85},"y":{"datum":1896.3,"type":"quantitative"},"y2":{"datum":1888.2}}},
{"data":{"values":[{"bar":7.6,"price":1891.7,"label":"A · TradingView"}]},"mark":{"type":"text","align":"right","baseline":"middle","fontSize":15,"color":"#5d606b","clip":true},"encoding":{"x":{"field":"bar","type":"quantitative"},"y":{"field":"price","type":"quantitative"},"text":{"field":"label"}}},
{"data":{"values":[{"bar":11.1,"price":1891.7,"label":"O"},{"bar":24.9,"price":1891.7,"label":"H"},{"bar":38.8,"price":1891.7,"label":"L"},{"bar":52,"price":1891.7,"label":"C"}]},"mark":{"type":"text","align":"left","baseline":"middle","fontSize":13,"color":"#131722"},"encoding":{"x":{"field":"bar","type":"quantitative"},"y":{"field":"price","type":"quantitative"},"text":{"field":"label"}}},
{"data":{"values":[{"bar":12.9,"price":1891.7,"label":"1710.155"},{"bar":27,"price":1891.7,"label":"1726.795"},{"bar":40.3,"price":1891.7,"label":"1699.880"},{"bar":53.8,"price":1891.7,"label":"1701.860"},{"bar":65.9,"price":1891.7,"label":"−8.295 (−0.49%)"}]},"mark":{"type":"text","align":"left","baseline":"middle","fontSize":13,"color":"#f23645"},"encoding":{"x":{"field":"bar","type":"quantitative"},"y":{"field":"price","type":"quantitative"},"text":{"field":"label"}}},
{"data":{"values":[{"bar":208.3,"price":1733.8}]},"mark":{"type":"point","shape":"circle","filled":true,"color":"#d6d9e2","opacity":0.1,"size":4000},"encoding":{"x":{"field":"bar","type":"quantitative"},"y":{"field":"price","type":"quantitative"}}},
{"data":{"values":[{"bar":208.3,"price":1733.8}]},"mark":{"type":"point","shape":"circle","filled":true,"color":"#ffffff","opacity":0.93,"size":1963},"encoding":{"x":{"field":"bar","type":"quantitative"},"y":{"field":"price","type":"quantitative"}}},
{"data":{"values":[{"bar":208.4,"price":1733.8}]},"mark":{"type":"point","shape":"triangle-right","filled":true,"color":"#2962ff","opacity":1,"size":200},"encoding":{"x":{"field":"bar","type":"quantitative"},"y":{"field":"price","type":"quantitative"}}},
{"data":{"values":[{"bar":174.9,"price":1627.3}]},"mark":{"type":"point","shape":"circle","filled":true,"fill":"#ffffff","stroke":"#f23645","strokeWidth":2,"opacity":1,"size":300},"encoding":{"x":{"field":"bar","type":"quantitative"},"y":{"field":"price","type":"quantitative"}}},
{"data":{"name":"flagParts"},"mark":{"type":"rect"},"encoding":{"x":{"field":"x1","type":"quantitative"},"x2":{"field":"x2"},"y":{"field":"y1","type":"quantitative"},"y2":{"field":"y2"},"color":{"field":"part","type":"nominal","scale":{"domain":["blue","red"],"range":["#3c6ae0","#f23645"]},"legend":null}}},
{"data":{"name":"tags"},"mark":{"type":"rect","cornerRadius":1},"encoding":{"x":{"datum":218,"type":"quantitative"},"x2":{"datum":230.7},"y":{"field":"y1","type":"quantitative"},"y2":{"field":"y2"},"fill":{"field":"name","type":"nominal","scale":{"domain":["cross","blue","green","red","yellow","purple"],"range":["#131722","#2962ff","#089981","#f23645","#ffeb3b","#b72bff"]},"legend":null}}},
{"data":{"name":"tags"},"mark":{"type":"text","align":"left","baseline":"middle","fontSize":12,"fontWeight":"bold"},"encoding":{"x":{"datum":220,"type":"quantitative"},"y":{"field":"price","type":"quantitative"},"text":{"field":"label"},"fill":{"field":"name","type":"nominal","scale":{"domain":["cross","blue","green","red","yellow","purple"],"range":["#ffffff","#ffffff","#ffffff","#ffffff","#131722","#ffffff"]},"legend":null}}},
{"data":{"values":[{"bar":220,"price":1894.3,"label":"USD"}]},"mark":{"type":"text","align":"left","baseline":"middle","fontSize":12,"color":"#131722"},"encoding":{"x":{"field":"bar","type":"quantitative"},"y":{"field":"price","type":"quantitative"},"text":{"field":"label"}}}
],
"resolve":{"scale":{"fill":"independent"}}
},
{"width":1179,"height":105,
"layer":[
{"data":{"values":[{"low":30,"high":70}]},"mark":{"type":"rect","color":"#7e57c2","opacity":0.1},"encoding":{"x":{"datum":-12.12,"type":"quantitative","scale":{"domain":[-12.12,217.79],"nice":false,"zero":false,"padding":0},"axis":{"title":null,"values":[6,28,50,71,116,137,159,181,203],"labelExpr":"datum.value==6?'Tháng Năm':datum.value==28?'Tháng 6':datum.value==50?'Tháng 7':datum.value==71?'Tháng Tám':datum.value==116?'Tháng 10':datum.value==137?'Tháng 11':datum.value==159?'Tháng Mười hai':datum.value==181?'2023':'Tháng Hai'","labelFontWeight":{"expr":"datum.value==181?'bold':'normal'"},"grid":false,"domain":false,"ticks":false,"labelPadding":-14,"labelBaseline":"middle","labelAngle":0,"labelOverlap":false,"labelFontSize":12,"labelColor":"#131722"}},"x2":{"datum":218},"y":{"field":"low","type":"quantitative","scale":{"domain":[-6.36,89.09],"nice":false,"zero":false},"axis":{"orient":"right","title":null,"values":[80,40],"format":".2f","grid":false,"domain":false,"ticks":false,"labelAlign":"left","labelPadding":10,"labelFontSize":12,"labelColor":"#131722"}},"y2":{"field":"high"}}},
{"data":{"name":"rsiBounds"},"mark":{"type":"rule","color":"#787b86","strokeWidth":1,"strokeDash":[5,5]},"encoding":{"x":{"datum":-12.12,"type":"quantitative"},"x2":{"datum":218},"y":{"field":"rsi","type":"quantitative"}}},
{"data":{"values":[{"rsi":50}]},"mark":{"type":"rule","color":"#787b86","strokeWidth":1,"strokeDash":[5,5],"opacity":0.5},"encoding":{"x":{"datum":-12.12,"type":"quantitative"},"x2":{"datum":218},"y":{"field":"rsi","type":"quantitative"}}},
{"data":{"values":[{"rsi":89.09},{"rsi":-6.36}]},"mark":{"type":"rule","color":"#e0e3eb","strokeWidth":1},"encoding":{"x":{"datum":-12.12,"type":"quantitative"},"x2":{"datum":231.2},"y":{"field":"rsi","type":"quantitative"}}},
{"data":{"values":[{"bar":97,"from":89.09,"to":17.3}]},"mark":{"type":"rule","color":"#9598a1","strokeWidth":1,"strokeDash":[5,5]},"encoding":{"x":{"field":"bar","type":"quantitative"},"y":{"field":"from","type":"quantitative"},"y2":{"field":"to"}}},
{"data":{"name":"signal"},"mark":{"type":"line","color":"#dcf53b","strokeWidth":1.2,"clip":true},"encoding":{"x":{"field":"bar","type":"quantitative"},"y":{"field":"rsi","type":"quantitative"}}},
{"data":{"name":"rsi"},"mark":{"type":"line","color":"#a25fc8","strokeWidth":1.3,"clip":true},"encoding":{"x":{"field":"bar","type":"quantitative"},"y":{"field":"rsi","type":"quantitative"}}},
{"data":{"values":[{"bar":-14.9,"rsi":4.5,"label":"Tháng 4"}]},"mark":{"type":"text","align":"center","baseline":"middle","fontSize":12,"color":"#131722","clip":true},"encoding":{"x":{"field":"bar","type":"quantitative"},"y":{"field":"rsi","type":"quantitative"},"text":{"field":"label"}}},
{"data":{"values":[{"a":1}]},"mark":{"type":"rect","color":"#131722"},"encoding":{"x":{"datum":85.6,"type":"quantitative"},"x2":{"datum":109.4},"y":{"datum":17.3,"type":"quantitative"},"y2":{"datum":-4.5}}},
{"data":{"values":[{"bar":97.5,"rsi":6.4,"label":"Th 3 06 Tháng 9 '22"}]},"mark":{"type":"text","align":"center","baseline":"middle","fontSize":12,"fontWeight":"bold","color":"#ffffff"},"encoding":{"x":{"field":"bar","type":"quantitative"},"y":{"field":"rsi","type":"quantitative"},"text":{"field":"label"}}},
{"data":{"name":"rsiTags"},"mark":{"type":"rect"},"encoding":{"x":{"datum":218,"type":"quantitative"},"x2":{"datum":227},"y":{"field":"y1","type":"quantitative"},"y2":{"field":"y2"},"fill":{"field":"name","type":"nominal","scale":{"domain":["signal","rsi"],"range":["#d9ff3b","#a25fc8"]},"legend":null}}},
{"data":{"name":"rsiTags"},"mark":{"type":"text","align":"left","baseline":"middle","fontSize":12},"encoding":{"x":{"datum":220,"type":"quantitative"},"y":{"field":"rsi","type":"quantitative"},"text":{"field":"label"},"fill":{"field":"name","type":"nominal","scale":{"domain":["signal","rsi"],"range":["#131722","#ffffff"]},"legend":null}}}
],
"resolve":{"scale":{"fill":"independent"}}
}
]}
